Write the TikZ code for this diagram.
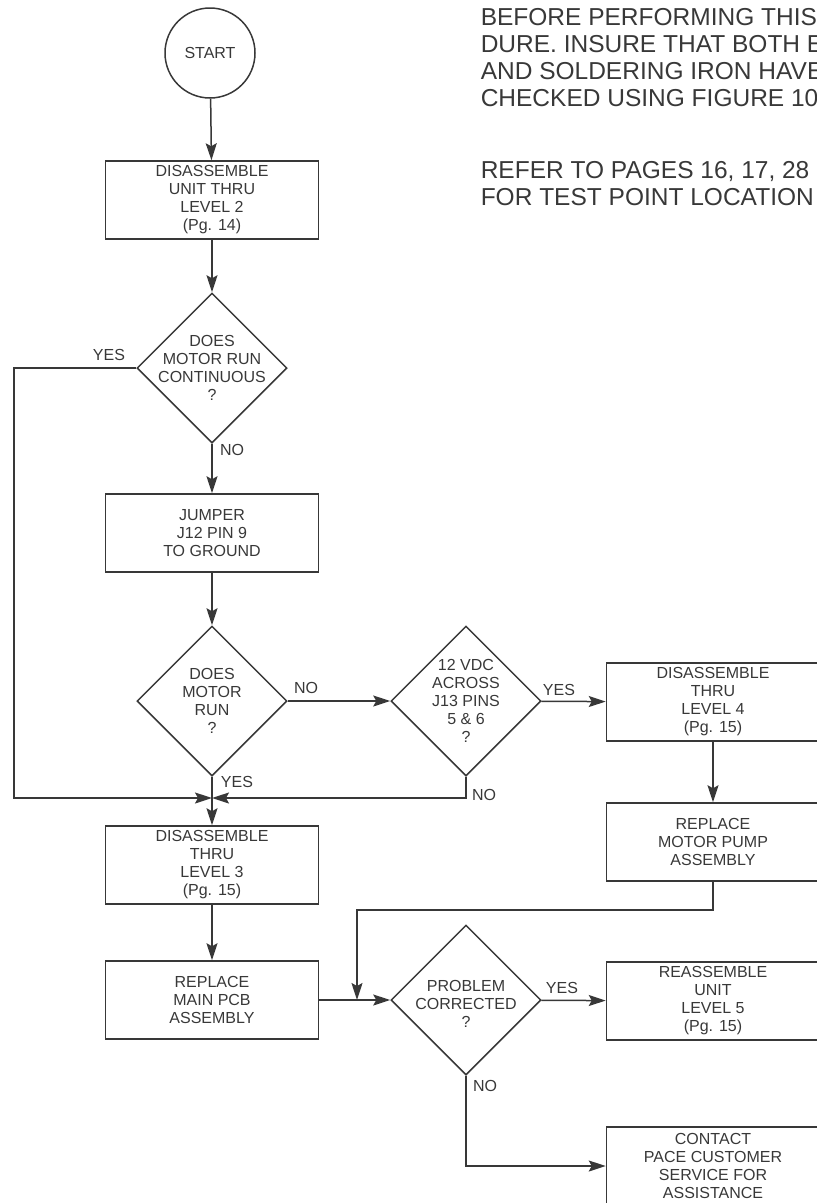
\documentclass[tikz,border=0pt]{standalone}
\usepackage{fontspec}
\setmainfont{Liberation Sans}
\usetikzlibrary{shapes.geometric,arrows.meta}

\definecolor{ink}{gray}{0.22}
\newcommand\chartfont{\fontsize{16}{18}\selectfont}
\newcommand\notefont{\fontsize{24.5}{27}\selectfont}

\tikzset{
  flow/.style={-{Stealth[length=17pt,width=11pt,inset=3pt]}},
  stepbox/.style={draw, rectangle, minimum width=213pt, minimum height=78pt,
    align=center, font=\chartfont, inner sep=2pt},
  test/.style={draw, diamond, minimum width=150pt, minimum height=150pt,
    inner sep=0pt},
  qtext/.style={align=center, font=\chartfont, inner sep=0pt},
  answer/.style={font=\chartfont, inner sep=0pt},
  note/.style={anchor=base west, font=\notefont, inner sep=0pt}
}

\begin{document}
\begin{tikzpicture}[x=1pt, y=-1pt, line width=1.5pt, color=ink]

  \useasboundingbox (0,0) rectangle (817,1203);
  \clip (0,0) rectangle (817,1203);

  % Notes at the top right (cut by the page edge)
  \foreach \y/\t [count=\i] in {25/{BEFORE PERFORMING THIS},
      52/{DURE. INSURE THAT BOTH E},
      79/{AND SOLDERING IRON HAVE},
      106/{CHECKED USING FIGURE 10},
      178/{REFER TO PAGES 16, 17, 28},
      205/{FOR TEST POINT LOCATION}}{
    \node[note] (note\i) at (480,\y) {\t};
  }

  % Left column
  \node[circle, draw, minimum size=90pt, font=\chartfont] (start) at (210,53) {START};
  \node[stepbox] (dis2) at (212,200) {DISASSEMBLE\\UNIT THRU\\LEVEL 2\\(Pg. 14)};
  \node[test, label={[qtext]center:{DOES\\MOTOR RUN\\CONTINUOUS\\?}}] (dmc) at (212,368) {};
  \node[stepbox] (jump) at (212,533) {JUMPER\\J12 PIN 9\\TO GROUND};
  \node[test, label={[qtext]center:{DOES\\MOTOR\\RUN\\?}}] (dmr) at (212,701) {};
  \coordinate (join) at (212,798);
  \coordinate (edge) at (14,798);
  \node[stepbox] (dis3) at (212,865) {DISASSEMBLE\\THRU\\LEVEL 3\\(Pg. 15)};
  \node[stepbox] (pcb) at (212,1000) {REPLACE\\MAIN PCB\\ASSEMBLY};

  % Middle column
  \node[test, label={[qtext]center:{12 VDC\\ACROSS\\J13 PINS\\5 \& 6\\?}}] (d12) at (466,701) {};
  \node[test, label={[qtext, yshift=-4pt]center:{PROBLEM\\CORRECTED\\?}}] (dpc) at (466,1000) {};
  \coordinate (turn) at (357,910);
  \coordinate (merge) at (357,1000);

  % Right column, cut by the page edge
  \node[stepbox] (dis4) at (713,702) {DISASSEMBLE\\THRU\\LEVEL 4\\(Pg. 15)};
  \node[stepbox] (pump) at (713,842) {REPLACE\\MOTOR PUMP\\ASSEMBLY};
  \node[stepbox] (reasm) at (713,1001) {REASSEMBLE\\UNIT\\LEVEL 5\\(Pg. 15)};
  \node[stepbox] (help) at (713,1166) {CONTACT\\PACE CUSTOMER\\SERVICE FOR\\ASSISTANCE};

  % Connectors
  \draw[flow] (start) -- (dis2);
  \draw[flow] (dis2) -- (dmc);
  \draw[flow] (dmc) -- (jump);
  \draw[flow] (jump) -- (dmr);
  \draw[flow] (dmr) -- (d12);
  \draw[flow] (d12) -- (dis4);
  \draw[flow] (dis4) -- (pump);
  \draw[flow] (dmc.west) -| (edge) -- (join);
  \draw[flow] (d12.south) |- (join);
  \draw (dmr.south) -- (join);
  \draw[flow] (join) -- (dis3);
  \draw[flow] (dis3) -- (pcb);
  \draw[flow] (pcb) -- (dpc);
  \draw[flow] (pump.south) |- (turn) -- (merge);
  \draw[flow] (dpc) -- (reasm);
  \draw[flow] (dpc.south) |- (help);

  % Answers
  \foreach \x/\y/\t [count=\i] in {109/355/YES, 232/450/NO, 306/688/NO,
      237/782/YES, 559/690/YES, 484/795/NO, 562/988/YES, 485/1086/NO}{
    \node[answer] (ans\i) at (\x,\y) {\t};
  }

\end{tikzpicture}
\end{document}
